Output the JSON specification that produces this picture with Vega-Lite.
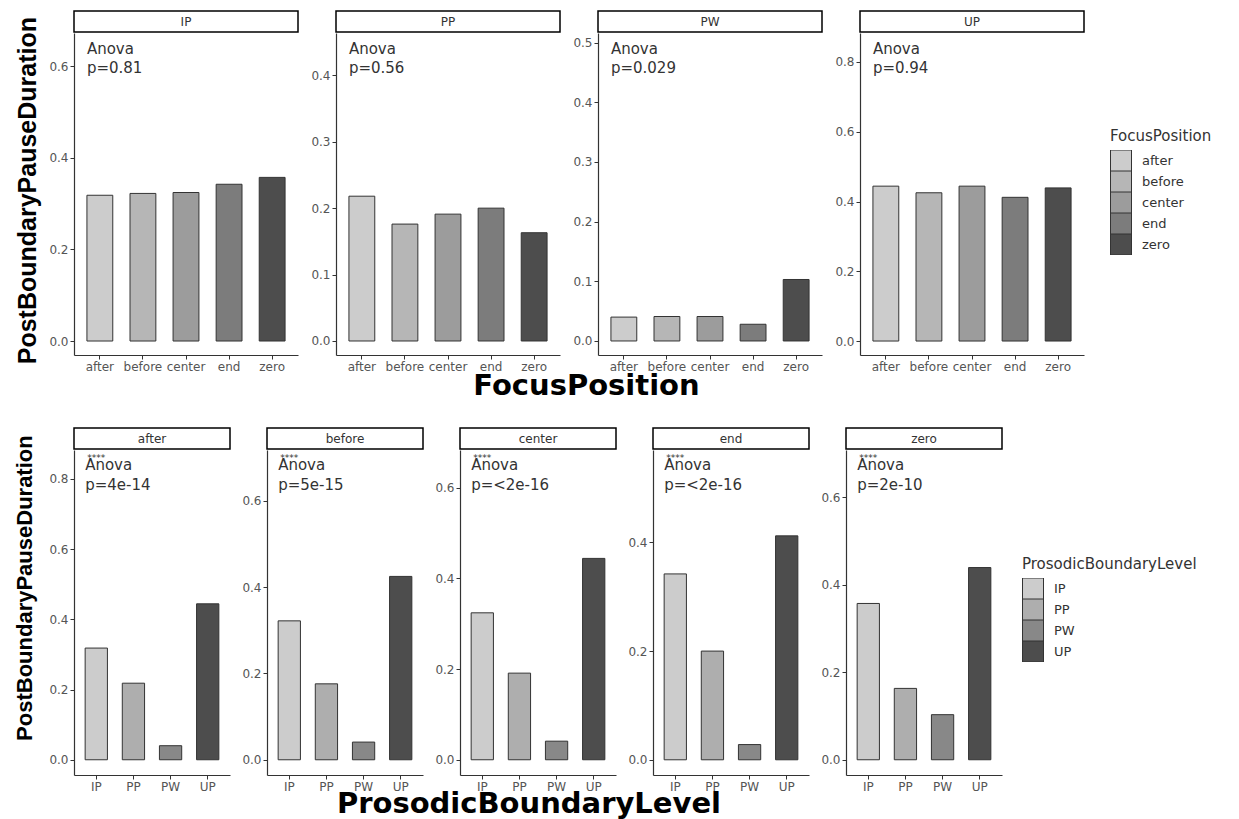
{
  "$schema": "https://vega.github.io/schema/vega-lite/v6.json",
  "padding": {"left": 13, "top": 10, "right": 5, "bottom": 0},
  "datasets": {
    "bars": [
      {"Boundary": "IP", "Focus": "after", "value": 0.318},
      {"Boundary": "IP", "Focus": "before", "value": 0.322},
      {"Boundary": "IP", "Focus": "center", "value": 0.324},
      {"Boundary": "IP", "Focus": "end", "value": 0.342},
      {"Boundary": "IP", "Focus": "zero", "value": 0.357},
      {"Boundary": "PP", "Focus": "after", "value": 0.218},
      {"Boundary": "PP", "Focus": "before", "value": 0.176},
      {"Boundary": "PP", "Focus": "center", "value": 0.191},
      {"Boundary": "PP", "Focus": "end", "value": 0.2},
      {"Boundary": "PP", "Focus": "zero", "value": 0.163},
      {"Boundary": "PW", "Focus": "after", "value": 0.04},
      {"Boundary": "PW", "Focus": "before", "value": 0.041},
      {"Boundary": "PW", "Focus": "center", "value": 0.041},
      {"Boundary": "PW", "Focus": "end", "value": 0.028},
      {"Boundary": "PW", "Focus": "zero", "value": 0.103},
      {"Boundary": "UP", "Focus": "after", "value": 0.444},
      {"Boundary": "UP", "Focus": "before", "value": 0.425},
      {"Boundary": "UP", "Focus": "center", "value": 0.444},
      {"Boundary": "UP", "Focus": "end", "value": 0.412},
      {"Boundary": "UP", "Focus": "zero", "value": 0.439}
    ],
    "panels": [
      {"panel": "IP", "label": "Anova\np=0.81", "stars": ""},
      {"panel": "PP", "label": "Anova\np=0.56", "stars": ""},
      {"panel": "PW", "label": "Anova\np=0.029", "stars": ""},
      {"panel": "UP", "label": "Anova\np=0.94", "stars": ""},
      {"panel": "after", "label": "Anova\np=4e-14", "stars": "****"},
      {"panel": "before", "label": "Anova\np=5e-15", "stars": "****"},
      {"panel": "center", "label": "Anova\np=<2e-16", "stars": "****"},
      {"panel": "end", "label": "Anova\np=<2e-16", "stars": "****"},
      {"panel": "zero", "label": "Anova\np=2e-10", "stars": "****"}
    ]
  },
  "spacing": 26,
  "resolve": {"scale": {"fill": "independent", "x": "independent", "y": "independent"}, "legend": {"fill": "independent"}},
  "vconcat": [
    {
      "title": {"text": "PostBoundaryPauseDuration", "orient": "left", "anchor": "middle", "fontSize": 25, "fontWeight": "bold", "font": "Liberation Sans", "color": "#000000", "offset": 8, "dx": 15},
      "resolve": {"scale": {"fill": "independent", "x": "independent", "y": "independent"}, "legend": {"fill": "independent"}},
      "vconcat": [
        {
          "title": {"text": "FocusPosition", "orient": "bottom", "anchor": "middle", "fontSize": 29, "fontWeight": "bold", "font": "DejaVu Sans", "color": "#000000", "offset": 0, "dx": -44},
          "spacing": 11,
          "resolve": {"scale": {"fill": "independent", "x": "independent", "y": "independent"}, "legend": {"fill": "independent"}},
          "hconcat": [
            {
              "spacing": 0,
              "vconcat": [
                {"width": 224, "height": 21, "view": {"stroke": "#000000", "strokeWidth": 1.5, "fill": "#ffffff"},
                 "data": {"name": "panels"}, "transform": [{"filter": "datum.panel === 'IP'"}],
                 "mark": {"type": "text", "fontSize": 12, "color": "#333333"},
                 "encoding": {"text": {"field": "panel"}}},
                {"width": 224, "height": 322,
                 "layer": [
                   {"data": {"name": "bars"}, "transform": [{"filter": "datum.Boundary === 'IP'"}],
                    "mark": {"type": "bar", "stroke": "#333333", "strokeWidth": 1},
                    "encoding": {
                      "x": {"field": "Focus", "type": "nominal", "scale": {"paddingInner": 0.4, "paddingOuter": 0.3}, "axis": {"title": null}},
                      "y": {"field": "value", "type": "quantitative", "scale": {"domain": [-0.0305, 0.672], "nice": false, "zero": false}, "axis": {"values": [0, 0.2, 0.4, 0.6], "format": ".1f", "title": null}},
                      "fill": {"field": "Focus", "type": "nominal", "scale": {"domain": ["after", "before", "center", "end", "zero"], "range": ["#cccccc", "#b6b6b6", "#9c9c9c", "#7c7c7c", "#4d4d4d"]}, "legend": null}
                    }},
                   {"data": {"name": "panels"}, "transform": [{"filter": "datum.panel === 'IP'"}],
                    "mark": {"type": "text", "align": "left", "baseline": "middle", "lineBreak": "\n", "fontSize": 15, "lineHeight": 19, "color": "#333333"},
                    "encoding": {"x": {"datum": "after", "type": "nominal", "bandPosition": 0}, "y": {"datum": 0.637, "type": "quantitative"}, "text": {"field": "label"}}}
                 ]}
              ]
            },
            {
              "spacing": 0,
              "vconcat": [
                {"width": 224, "height": 21, "view": {"stroke": "#000000", "strokeWidth": 1.5, "fill": "#ffffff"},
                 "data": {"name": "panels"}, "transform": [{"filter": "datum.panel === 'PP'"}],
                 "mark": {"type": "text", "fontSize": 12, "color": "#333333"},
                 "encoding": {"text": {"field": "panel"}}},
                {"width": 224, "height": 322,
                 "layer": [
                   {"data": {"name": "bars"}, "transform": [{"filter": "datum.Boundary === 'PP'"}],
                    "mark": {"type": "bar", "stroke": "#333333", "strokeWidth": 1},
                    "encoding": {
                      "x": {"field": "Focus", "type": "nominal", "scale": {"paddingInner": 0.4, "paddingOuter": 0.3}, "axis": {"title": null}},
                      "y": {"field": "value", "type": "quantitative", "scale": {"domain": [-0.0211, 0.4637], "nice": false, "zero": false}, "axis": {"values": [0, 0.1, 0.2, 0.3, 0.4], "format": ".1f", "title": null}},
                      "fill": {"field": "Focus", "type": "nominal", "scale": {"domain": ["after", "before", "center", "end", "zero"], "range": ["#cccccc", "#b6b6b6", "#9c9c9c", "#7c7c7c", "#4d4d4d"]}, "legend": null}
                    }},
                   {"data": {"name": "panels"}, "transform": [{"filter": "datum.panel === 'PP'"}],
                    "mark": {"type": "text", "align": "left", "baseline": "middle", "lineBreak": "\n", "fontSize": 15, "lineHeight": 19, "color": "#333333"},
                    "encoding": {"x": {"datum": "after", "type": "nominal", "bandPosition": 0}, "y": {"datum": 0.4396, "type": "quantitative"}, "text": {"field": "label"}}}
                 ]}
              ]
            },
            {
              "spacing": 0,
              "vconcat": [
                {"width": 224, "height": 21, "view": {"stroke": "#000000", "strokeWidth": 1.5, "fill": "#ffffff"},
                 "data": {"name": "panels"}, "transform": [{"filter": "datum.panel === 'PW'"}],
                 "mark": {"type": "text", "fontSize": 12, "color": "#333333"},
                 "encoding": {"text": {"field": "panel"}}},
                {"width": 224, "height": 322,
                 "layer": [
                   {"data": {"name": "bars"}, "transform": [{"filter": "datum.Boundary === 'PW'"}],
                    "mark": {"type": "bar", "stroke": "#333333", "strokeWidth": 1},
                    "encoding": {
                      "x": {"field": "Focus", "type": "nominal", "scale": {"paddingInner": 0.4, "paddingOuter": 0.3}, "axis": {"title": null}},
                      "y": {"field": "value", "type": "quantitative", "scale": {"domain": [-0.0235, 0.516], "nice": false, "zero": false}, "axis": {"values": [0, 0.1, 0.2, 0.3, 0.4, 0.5], "format": ".1f", "title": null}},
                      "fill": {"field": "Focus", "type": "nominal", "scale": {"domain": ["after", "before", "center", "end", "zero"], "range": ["#cccccc", "#b6b6b6", "#9c9c9c", "#7c7c7c", "#4d4d4d"]}, "legend": null}
                    }},
                   {"data": {"name": "panels"}, "transform": [{"filter": "datum.panel === 'PW'"}],
                    "mark": {"type": "text", "align": "left", "baseline": "middle", "lineBreak": "\n", "fontSize": 15, "lineHeight": 19, "color": "#333333"},
                    "encoding": {"x": {"datum": "after", "type": "nominal", "bandPosition": 0}, "y": {"datum": 0.4894, "type": "quantitative"}, "text": {"field": "label"}}}
                 ]}
              ]
            },
            {
              "spacing": 0,
              "vconcat": [
                {"width": 224, "height": 21, "view": {"stroke": "#000000", "strokeWidth": 1.5, "fill": "#ffffff"},
                 "data": {"name": "panels"}, "transform": [{"filter": "datum.panel === 'UP'"}],
                 "mark": {"type": "text", "fontSize": 12, "color": "#333333"},
                 "encoding": {"text": {"field": "panel"}}},
                {"width": 224, "height": 322,
                 "layer": [
                   {"data": {"name": "bars"}, "transform": [{"filter": "datum.Boundary === 'UP'"}],
                    "mark": {"type": "bar", "stroke": "#333333", "strokeWidth": 1},
                    "encoding": {
                      "x": {"field": "Focus", "type": "nominal", "scale": {"paddingInner": 0.4, "paddingOuter": 0.3}, "axis": {"title": null}},
                      "y": {"field": "value", "type": "quantitative", "scale": {"domain": [-0.04, 0.883], "nice": false, "zero": false}, "axis": {"values": [0, 0.2, 0.4, 0.6, 0.8], "format": ".1f", "title": null}},
                      "fill": {"field": "Focus", "type": "nominal", "scale": {"domain": ["after", "before", "center", "end", "zero"], "range": ["#cccccc", "#b6b6b6", "#9c9c9c", "#7c7c7c", "#4d4d4d"]},
                               "legend": {"title": "FocusPosition", "orient": "none", "legendX": 250, "legendY": 118}}
                    }},
                   {"data": {"name": "panels"}, "transform": [{"filter": "datum.panel === 'UP'"}],
                    "mark": {"type": "text", "align": "left", "baseline": "middle", "lineBreak": "\n", "fontSize": 15, "lineHeight": 19, "color": "#333333"},
                    "encoding": {"x": {"datum": "after", "type": "nominal", "bandPosition": 0}, "y": {"datum": 0.837, "type": "quantitative"}, "text": {"field": "label"}}}
                 ]}
              ]
            }
          ]
        }
      ]
    },
    {
      "title": {"text": "PostBoundaryPauseDuration", "orient": "left", "anchor": "middle", "fontSize": 22, "fontWeight": "bold", "font": "Liberation Sans", "color": "#000000", "offset": 12, "dx": 35},
      "resolve": {"scale": {"fill": "independent", "x": "independent", "y": "independent"}, "legend": {"fill": "independent"}},
      "vconcat": [
        {
          "title": {"text": "ProsodicBoundaryLevel", "orient": "bottom", "anchor": "middle", "fontSize": 29, "fontWeight": "bold", "font": "DejaVu Sans", "color": "#000000", "offset": -2, "dx": -94},
          "spacing": 10,
          "resolve": {"scale": {"fill": "independent", "x": "independent", "y": "independent"}, "legend": {"fill": "independent"}},
          "hconcat": [
            {
              "spacing": 0,
              "vconcat": [
                {"width": 156, "height": 21, "view": {"stroke": "#000000", "strokeWidth": 1.5, "fill": "#ffffff"},
                 "data": {"name": "panels"}, "transform": [{"filter": "datum.panel === 'after'"}],
                 "mark": {"type": "text", "fontSize": 12, "color": "#333333"},
                 "encoding": {"text": {"field": "panel"}}},
                {"width": 156, "height": 325,
                 "layer": [
                   {"data": {"name": "bars"}, "transform": [{"filter": "datum.Focus === 'after'"}],
                    "mark": {"type": "bar", "stroke": "#333333", "strokeWidth": 1},
                    "encoding": {
                      "x": {"field": "Boundary", "type": "nominal", "scale": {"paddingInner": 0.4, "paddingOuter": 0.3}, "axis": {"title": null}},
                      "y": {"field": "value", "type": "quantitative", "scale": {"domain": [-0.0434, 0.882], "nice": false, "zero": false}, "axis": {"values": [0, 0.2, 0.4, 0.6, 0.8], "format": ".1f", "title": null}},
                      "fill": {"field": "Boundary", "type": "nominal", "scale": {"domain": ["IP", "PP", "PW", "UP"], "range": ["#cccccc", "#aeaeae", "#888888", "#4d4d4d"]}, "legend": null}
                    }},
                   {"data": {"name": "panels"}, "transform": [{"filter": "datum.panel === 'after'"}],
                    "mark": {"type": "text", "align": "left", "baseline": "middle", "lineBreak": "\n", "fontSize": 15, "lineHeight": 20, "color": "#333333"},
                    "encoding": {"x": {"datum": "IP", "type": "nominal", "bandPosition": 0}, "y": {"datum": 0.8388, "type": "quantitative"}, "text": {"field": "label"}}},
                   {"data": {"name": "panels"}, "transform": [{"filter": "datum.panel === 'after'"}],
                    "mark": {"type": "text", "align": "left", "baseline": "middle", "fontSize": 9, "dx": 2, "dy": -1, "color": "#333333"},
                    "encoding": {"x": {"datum": "IP", "type": "nominal", "bandPosition": 0}, "y": {"datum": 0.856, "type": "quantitative"}, "text": {"field": "stars"}}}
                 ]}
              ]
            },
            {
              "spacing": 0,
              "vconcat": [
                {"width": 156, "height": 21, "view": {"stroke": "#000000", "strokeWidth": 1.5, "fill": "#ffffff"},
                 "data": {"name": "panels"}, "transform": [{"filter": "datum.panel === 'before'"}],
                 "mark": {"type": "text", "fontSize": 12, "color": "#333333"},
                 "encoding": {"text": {"field": "panel"}}},
                {"width": 156, "height": 325,
                 "layer": [
                   {"data": {"name": "bars"}, "transform": [{"filter": "datum.Focus === 'before'"}],
                    "mark": {"type": "bar", "stroke": "#333333", "strokeWidth": 1},
                    "encoding": {
                      "x": {"field": "Boundary", "type": "nominal", "scale": {"paddingInner": 0.4, "paddingOuter": 0.3}, "axis": {"title": null}},
                      "y": {"field": "value", "type": "quantitative", "scale": {"domain": [-0.0353, 0.718], "nice": false, "zero": false}, "axis": {"values": [0, 0.2, 0.4, 0.6], "format": ".1f", "title": null}},
                      "fill": {"field": "Boundary", "type": "nominal", "scale": {"domain": ["IP", "PP", "PW", "UP"], "range": ["#cccccc", "#aeaeae", "#888888", "#4d4d4d"]}, "legend": null}
                    }},
                   {"data": {"name": "panels"}, "transform": [{"filter": "datum.panel === 'before'"}],
                    "mark": {"type": "text", "align": "left", "baseline": "middle", "lineBreak": "\n", "fontSize": 15, "lineHeight": 20, "color": "#333333"},
                    "encoding": {"x": {"datum": "IP", "type": "nominal", "bandPosition": 0}, "y": {"datum": 0.683, "type": "quantitative"}, "text": {"field": "label"}}},
                   {"data": {"name": "panels"}, "transform": [{"filter": "datum.panel === 'before'"}],
                    "mark": {"type": "text", "align": "left", "baseline": "middle", "fontSize": 9, "dx": 2, "dy": -1, "color": "#333333"},
                    "encoding": {"x": {"datum": "IP", "type": "nominal", "bandPosition": 0}, "y": {"datum": 0.697, "type": "quantitative"}, "text": {"field": "stars"}}}
                 ]}
              ]
            },
            {
              "spacing": 0,
              "vconcat": [
                {"width": 156, "height": 21, "view": {"stroke": "#000000", "strokeWidth": 1.5, "fill": "#ffffff"},
                 "data": {"name": "panels"}, "transform": [{"filter": "datum.panel === 'center'"}],
                 "mark": {"type": "text", "fontSize": 12, "color": "#333333"},
                 "encoding": {"text": {"field": "panel"}}},
                {"width": 156, "height": 325,
                 "layer": [
                   {"data": {"name": "bars"}, "transform": [{"filter": "datum.Focus === 'center'"}],
                    "mark": {"type": "bar", "stroke": "#333333", "strokeWidth": 1},
                    "encoding": {
                      "x": {"field": "Boundary", "type": "nominal", "scale": {"paddingInner": 0.4, "paddingOuter": 0.3}, "axis": {"title": null}},
                      "y": {"field": "value", "type": "quantitative", "scale": {"domain": [-0.0336, 0.683], "nice": false, "zero": false}, "axis": {"values": [0, 0.2, 0.4, 0.6], "format": ".1f", "title": null}},
                      "fill": {"field": "Boundary", "type": "nominal", "scale": {"domain": ["IP", "PP", "PW", "UP"], "range": ["#cccccc", "#aeaeae", "#888888", "#4d4d4d"]}, "legend": null}
                    }},
                   {"data": {"name": "panels"}, "transform": [{"filter": "datum.panel === 'center'"}],
                    "mark": {"type": "text", "align": "left", "baseline": "middle", "lineBreak": "\n", "fontSize": 15, "lineHeight": 20, "color": "#333333"},
                    "encoding": {"x": {"datum": "IP", "type": "nominal", "bandPosition": 0}, "y": {"datum": 0.65, "type": "quantitative"}, "text": {"field": "label"}}},
                   {"data": {"name": "panels"}, "transform": [{"filter": "datum.panel === 'center'"}],
                    "mark": {"type": "text", "align": "left", "baseline": "middle", "fontSize": 9, "dx": 2, "dy": -1, "color": "#333333"},
                    "encoding": {"x": {"datum": "IP", "type": "nominal", "bandPosition": 0}, "y": {"datum": 0.663, "type": "quantitative"}, "text": {"field": "stars"}}}
                 ]}
              ]
            },
            {
              "spacing": 0,
              "vconcat": [
                {"width": 156, "height": 21, "view": {"stroke": "#000000", "strokeWidth": 1.5, "fill": "#ffffff"},
                 "data": {"name": "panels"}, "transform": [{"filter": "datum.panel === 'end'"}],
                 "mark": {"type": "text", "fontSize": 12, "color": "#333333"},
                 "encoding": {"text": {"field": "panel"}}},
                {"width": 156, "height": 325,
                 "layer": [
                   {"data": {"name": "bars"}, "transform": [{"filter": "datum.Focus === 'end'"}],
                    "mark": {"type": "bar", "stroke": "#333333", "strokeWidth": 1},
                    "encoding": {
                      "x": {"field": "Boundary", "type": "nominal", "scale": {"paddingInner": 0.4, "paddingOuter": 0.3}, "axis": {"title": null}},
                      "y": {"field": "value", "type": "quantitative", "scale": {"domain": [-0.028, 0.57], "nice": false, "zero": false}, "axis": {"values": [0, 0.2, 0.4], "format": ".1f", "title": null}},
                      "fill": {"field": "Boundary", "type": "nominal", "scale": {"domain": ["IP", "PP", "PW", "UP"], "range": ["#cccccc", "#aeaeae", "#888888", "#4d4d4d"]}, "legend": null}
                    }},
                   {"data": {"name": "panels"}, "transform": [{"filter": "datum.panel === 'end'"}],
                    "mark": {"type": "text", "align": "left", "baseline": "middle", "lineBreak": "\n", "fontSize": 15, "lineHeight": 20, "color": "#333333"},
                    "encoding": {"x": {"datum": "IP", "type": "nominal", "bandPosition": 0}, "y": {"datum": 0.5423, "type": "quantitative"}, "text": {"field": "label"}}},
                   {"data": {"name": "panels"}, "transform": [{"filter": "datum.panel === 'end'"}],
                    "mark": {"type": "text", "align": "left", "baseline": "middle", "fontSize": 9, "dx": 2, "dy": -1, "color": "#333333"},
                    "encoding": {"x": {"datum": "IP", "type": "nominal", "bandPosition": 0}, "y": {"datum": 0.553, "type": "quantitative"}, "text": {"field": "stars"}}}
                 ]}
              ]
            },
            {
              "spacing": 0,
              "vconcat": [
                {"width": 156, "height": 21, "view": {"stroke": "#000000", "strokeWidth": 1.5, "fill": "#ffffff"},
                 "data": {"name": "panels"}, "transform": [{"filter": "datum.panel === 'zero'"}],
                 "mark": {"type": "text", "fontSize": 12, "color": "#333333"},
                 "encoding": {"text": {"field": "panel"}}},
                {"width": 156, "height": 325,
                 "layer": [
                   {"data": {"name": "bars"}, "transform": [{"filter": "datum.Focus === 'zero'"}],
                    "mark": {"type": "bar", "stroke": "#333333", "strokeWidth": 1},
                    "encoding": {
                      "x": {"field": "Boundary", "type": "nominal", "scale": {"paddingInner": 0.4, "paddingOuter": 0.3}, "axis": {"title": null}},
                      "y": {"field": "value", "type": "quantitative", "scale": {"domain": [-0.0348, 0.7075], "nice": false, "zero": false}, "axis": {"values": [0, 0.2, 0.4, 0.6], "format": ".1f", "title": null}},
                      "fill": {"field": "Boundary", "type": "nominal", "scale": {"domain": ["IP", "PP", "PW", "UP"], "range": ["#cccccc", "#aeaeae", "#888888", "#4d4d4d"]},
                               "legend": {"title": "ProsodicBoundaryLevel", "orient": "none", "legendX": 176, "legendY": 129}}
                    }},
                   {"data": {"name": "panels"}, "transform": [{"filter": "datum.panel === 'zero'"}],
                    "mark": {"type": "text", "align": "left", "baseline": "middle", "lineBreak": "\n", "fontSize": 15, "lineHeight": 20, "color": "#333333"},
                    "encoding": {"x": {"datum": "IP", "type": "nominal", "bandPosition": 0}, "y": {"datum": 0.6727, "type": "quantitative"}, "text": {"field": "label"}}},
                   {"data": {"name": "panels"}, "transform": [{"filter": "datum.panel === 'zero'"}],
                    "mark": {"type": "text", "align": "left", "baseline": "middle", "fontSize": 9, "dx": 2, "dy": -1, "color": "#333333"},
                    "encoding": {"x": {"datum": "IP", "type": "nominal", "bandPosition": 0}, "y": {"datum": 0.686, "type": "quantitative"}, "text": {"field": "stars"}}}
                 ]}
              ]
            }
          ]
        }
      ]
    }
  ],
  "config": {
    "font": "DejaVu Sans",
    "view": {"stroke": null},
    "axis": {"grid": false, "domainColor": "#333333", "domainWidth": 1.2, "tickColor": "#333333", "tickSize": 4, "labelColor": "#555555", "labelFontSize": 12, "labelFont": "DejaVu Sans", "labelPadding": 2},
    "axisX": {"labelAngle": 0},
    "legend": {"symbolType": "square", "symbolSize": 441, "symbolStrokeColor": "#333333", "symbolStrokeWidth": 1, "rowPadding": 0, "clipHeight": 21, "titleFontSize": 15, "titleFontWeight": "normal", "titleColor": "#333333", "titleFont": "DejaVu Sans", "titlePadding": 6, "labelFontSize": 13, "labelColor": "#333333", "labelOffset": 10, "labelFont": "DejaVu Sans"}
  }
}
